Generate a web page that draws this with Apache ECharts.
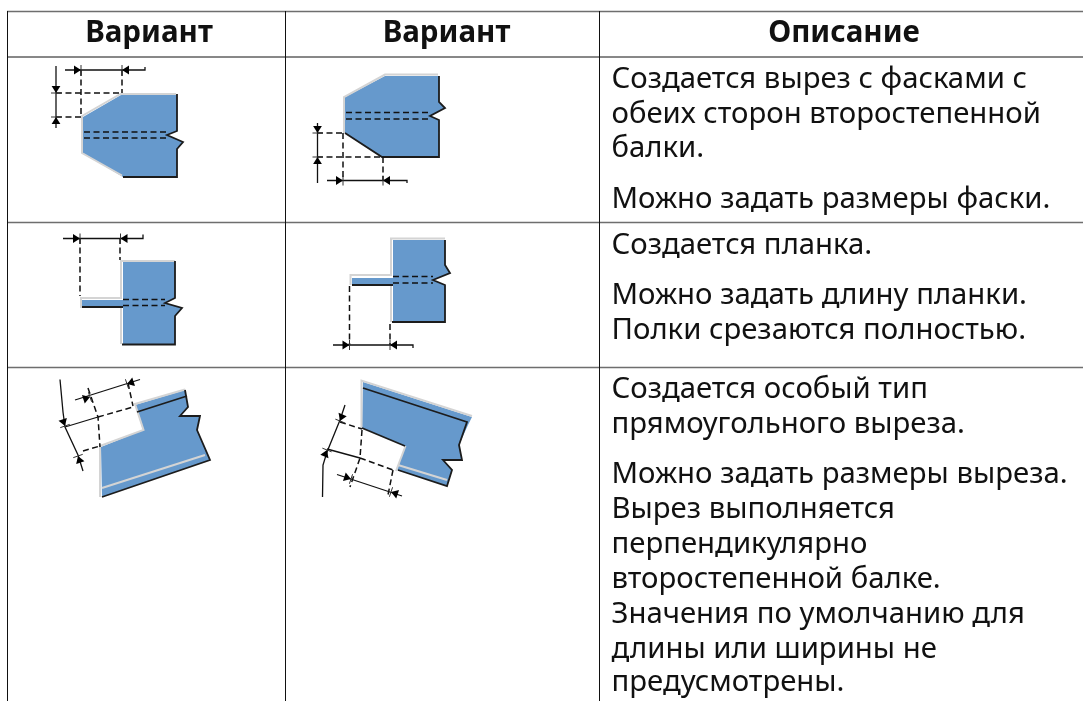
<!DOCTYPE html>
<html>
<head>
<meta charset="utf-8">
<style>html,body{margin:0;padding:0;background:#fff}#c{width:1083px;height:701px}</style>
<script src="https://cdn.jsdelivr.net/npm/echarts@6/dist/echarts.min.js"></script>
</head>
<body>
<div id="c"></div>
<script>
// Table text
const headerLabels = ['Вариант', 'Вариант', 'Описание'];
const descriptionLines = [
  'Создается вырез с фасками с', 'обеих сторон второстепенной', 'балки.',
  'Можно задать размеры фаски.',
  'Создается планка.',
  'Можно задать длину планки.', 'Полки срезаются полностью.',
  'Создается особый тип', 'прямоугольного выреза.',
  'Можно задать размеры выреза.', 'Вырез выполняется', 'перпендикулярно',
  'второстепенной балке.', 'Значения по умолчанию для', 'длины или ширины не', 'предусмотрены.'
];
const headerCentres = [149, 446.5, 844];
const headerBaseline = 41.7;
const descriptionLeft = 611.5;
const descriptionBaselines = [88, 123, 157.5, 208, 254, 304, 339, 398, 433, 483, 518.5, 553, 588, 623, 658, 691];
const baselineDrop = 23;

// Table rules, in picture units
const ruleHeavy = [[[7, 11.5], [1083, 11.5]], [[7, 222.5], [1083, 222.5]], [[7, 367.5], [1083, 367.5]]];
const ruleThin = [[[7, 57], [1083, 57]], [[7.5, 11], [7.5, 701]], [[285.5, 11], [285.5, 701]], [[599.5, 11], [599.5, 701]]];

// Beam drawings
const blueFills = [
  [[121, 95], [177, 95], [177, 131], [167, 135], [183, 142], [177, 149], [177, 177], [123, 177], [83, 153], [83, 117]],
  [[385, 76], [439, 76], [439, 102], [445, 108], [430, 116], [439, 120], [439, 157], [382, 157], [345, 133], [345, 97]],
  [[123, 262], [175, 262], [175, 298], [165, 303], [182, 308], [175, 316], [175, 344], [123, 344], [123, 307], [82, 307], [82, 300], [123, 300]],
  [[393, 240], [445, 240], [445, 265], [450, 273], [433, 280], [445, 285], [445, 322], [393, 322], [393, 285], [352, 285], [352, 278], [393, 278]],
  [[135, 405], [185, 390], [188, 407], [180, 416], [200, 416], [197, 430], [210, 460], [102, 497], [101, 447], [143, 430]],
  [[363, 382], [472, 417], [468, 425], [459, 445], [462, 460], [443, 460], [452, 470], [447, 486], [397, 470], [405, 446], [362, 428]]
];
const lightOutlines = [
  [[176, 94], [120.5, 94], [82, 116], [82, 153], [122, 175.5]],
  [[438, 74.5], [385, 74.5], [344, 97], [344, 133]],
  [[175, 261], [121, 261], [121, 298], [81, 298], [81, 308]], [[121, 308], [121, 344]],
  [[445, 238.5], [391, 238.5], [391, 275], [350.5, 275], [350.5, 285]], [[391, 285], [391, 322]],
  [[100, 497], [100, 446], [143.5, 430], [135, 404], [185, 389.5]], [[102, 488], [205, 455]],
  [[361.5, 428], [361.5, 380.5], [472, 416]], [[405.5, 446], [396, 471]], [[398, 465], [447, 480]]
];
const darkOutlines = [
  [[123, 177], [177, 177], [177, 149], [183, 142], [167, 135], [177, 131], [177, 94]],
  [[345, 133], [382, 157], [439, 157], [439, 120], [430, 116], [445, 108], [439, 102], [439, 76]],
  [[82, 307], [123, 307]], [[122, 344.5], [175, 344.5], [175, 316], [182, 308], [165, 303], [175, 298], [175, 261]],
  [[352, 285], [393, 285]], [[392, 322], [445, 322], [445, 285], [433, 280], [450, 273], [445, 265], [445, 240]],
  [[137, 412], [187, 396]], [[102, 497], [210, 460], [197, 430], [200, 416], [180, 416], [188, 407], [185, 390]],
  [[363, 388], [467, 422], [459, 445], [462, 460], [443, 460], [452, 470], [447, 486], [398, 470]], [[362, 428], [405, 446]]
];
const dashedLines = [
  [[84, 132], [167, 132]], [[84, 138], [167, 138]], [[56, 93], [120, 93]], [[56, 117], [81, 117]], [[81, 70], [81, 117]], [[122, 70], [122, 93]],
  [[346, 112.5], [430, 112.5]], [[346, 119], [430, 119]], [[317, 133], [344, 133]], [[317, 157], [381, 157]], [[343, 133], [343, 180]], [[383, 157], [383, 180]],
  [[123, 299.5], [165, 299.5]], [[123, 305.5], [165, 305.5]], [[80, 238], [80, 296]], [[120, 238], [120, 260]],
  [[393, 276.5], [433, 276.5]], [[393, 283], [433, 283]], [[349.5, 286], [349.5, 345]], [[390, 324], [390, 345]],
  [[88, 388], [98, 417], [100, 447]], [[98, 417], [133, 407]], [[83, 451], [100, 446]], [[128, 383], [133, 406]],
  [[340, 422], [362, 429]], [[360, 458], [393, 470]], [[362, 430], [360, 458], [350, 487]], [[393, 470], [388, 495]]
];
const dimensionLines = [
  [[56, 66], [56, 128]], [[65, 70], [145, 70], [145, 67]],
  [[317.5, 123], [317.5, 183]], [[327, 180.5], [407, 180.5], [407, 183]],
  [[63, 238.5], [143, 238.5], [143, 234.5]],
  [[333, 345], [413, 345], [413, 348]],
  [[75, 400], [140, 379.5]], [[60, 379.5], [63, 412], [65, 427], [78, 455], [83, 471]], [[65, 427], [98, 417]],
  [[345, 405], [340, 420], [327, 452], [323, 465], [322.5, 497]], [[327, 449], [360, 458]], [[337, 474.5], [402, 496]]
];
// tip x, tip y, then the direction the head points in
const arrowTips = [
  [56, 93, 0, 1], [56, 117, 0, -1], [81, 70, 1, 0], [122, 70, -1, 0],
  [317.5, 133, 0, 1], [317.5, 157, 0, -1], [343, 180.5, 1, 0], [383, 180.5, -1, 0],
  [80, 238.5, 1, 0], [120.5, 238.5, -1, 0],
  [349.5, 345, 1, 0], [390, 345, -1, 0],
  [90, 397, 3, -1], [127, 384, -3, 1], [65, 426, 0.35, 1], [78, 456, -0.35, -1],
  [340, 421, -0.4, 1], [327, 450, 0.4, -1], [351, 479, 3, 1], [391, 492, -3, -1]
];

const axisMaxX = 1083, axisMaxY = 701;

function polyItems(list) { return list.map((_, i) => [i]); }
function pathSeries(name, list, style, z, closed) {
  return {
    type: 'custom', name, coordinateSystem: 'cartesian2d', z, silent: true, clip: true,
    data: polyItems(list),
    renderItem(params, api) {
      const pts = list[params.dataIndex].map(p => api.coord(p));
      return { type: closed ? 'polygon' : 'polyline', shape: { points: pts }, style };
    }
  };
}
function textSeries(name, strings, xs, ys, font, align) {
  return {
    type: 'custom', name, coordinateSystem: 'cartesian2d', z: 20, silent: true, clip: false,
    data: strings.map((_, i) => [i]),
    renderItem(params, api) {
      const i = params.dataIndex;
      const p = api.coord([xs[i], ys[i] - baselineDrop]);
      return { type: 'text', style: { x: p[0], y: p[1], text: strings[i], font, fill: '#111', align, verticalAlign: 'top' } };
    }
  };
}
const arrowSeries = {
  type: 'custom', name: 'arrows', coordinateSystem: 'cartesian2d', z: 9, silent: true,
  data: polyItems(arrowTips),
  renderItem(params, api) {
    const [x, y, dx, dy] = arrowTips[params.dataIndex];
    const n = Math.hypot(dx, dy), ux = dx / n, uy = dy / n;
    const len = 7, half = 4.4, tick = 5;
    const pts = [[x, y], [x - ux * len - uy * half, y - uy * len + ux * half], [x - ux * len + uy * half, y - uy * len - ux * half]];
    const tk = [[x - uy * tick, y + ux * tick], [x + uy * tick, y - ux * tick]];
    return {
      type: 'group',
      children: [
        { type: 'polygon', shape: { points: pts.map(p => api.coord(p)) }, style: { fill: '#000' } },
        { type: 'polyline', shape: { points: tk.map(p => api.coord(p)) }, style: { stroke: '#333', lineWidth: 1, fill: 'none' } }
      ]
    };
  }
};

const chart = echarts.init(document.getElementById('c'), null, { renderer: 'canvas' });
chart.setOption({
  animation: false,
  backgroundColor: '#ffffff',
  grid: { left: 0, right: 0, top: 0, bottom: 0 },
  xAxis: { type: 'value', min: 0, max: axisMaxX, show: false },
  yAxis: { type: 'value', min: 0, max: axisMaxY, inverse: true, show: false },
  series: [
    pathSeries('heavy rules', ruleHeavy, { stroke: '#6e6e6e', lineWidth: 1.6, fill: 'none' }, 1),
    pathSeries('thin rules', ruleThin, { stroke: '#111', lineWidth: 1, fill: 'none' }, 2),
    pathSeries('beam fill', blueFills, { fill: '#6699cc' }, 3, true),
    pathSeries('light edges', lightOutlines, { stroke: '#d4d4d4', lineWidth: 2, fill: 'none' }, 4),
    pathSeries('dark edges', darkOutlines, { stroke: '#1c1c1c', lineWidth: 1.8, fill: 'none' }, 5),
    pathSeries('dashes', dashedLines, { stroke: '#111', lineWidth: 1.5, lineDash: [6, 3.5], fill: 'none' }, 6),
    pathSeries('dimension lines', dimensionLines, { stroke: '#111', lineWidth: 1.3, fill: 'none' }, 7),
    arrowSeries,
    textSeries('headers', headerLabels, headerCentres, headerLabels.map(() => headerBaseline), 'bold 29.5px "Noto Sans"', 'center'),
    textSeries('description', descriptionLines, descriptionLines.map(() => descriptionLeft), descriptionBaselines, '29.3px "Noto Sans"', 'left')
  ]
});
</script>
</body>
</html>
